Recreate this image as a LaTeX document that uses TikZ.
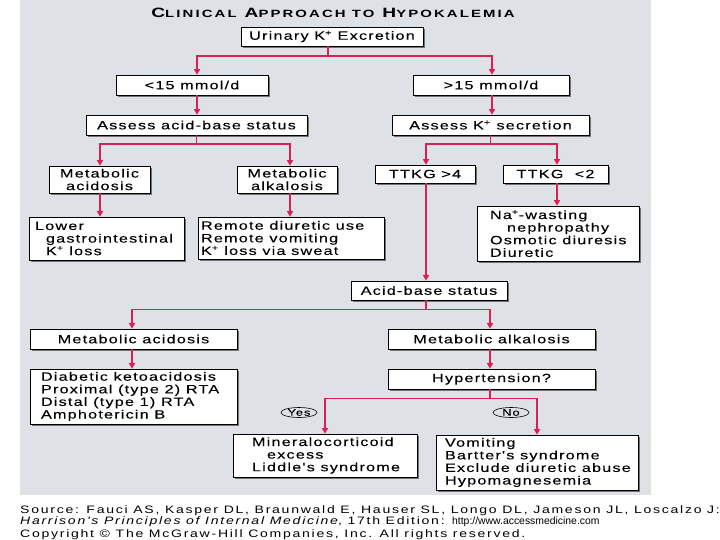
\documentclass[tikz,border=0pt]{standalone}
\usepackage{fontspec}
\setmainfont{Liberation Sans}
\newfontfamily\bxf[FakeStretch=1.35,LetterSpace=10,FakeBold=0.1]{Liberation Sans}
\newfontfamily\ttlf[FakeStretch=1.42,LetterSpace=20]{Liberation Sans}
\newfontfamily\ftf[FakeStretch=1.3,LetterSpace=16]{Liberation Sans}
\newcommand{\bxfont}{\bxf\fontsize{12}{12.6}\selectfont}
\newcommand{\ftfont}{\ftf\fontsize{10.8}{10.8}\selectfont}
\newcommand{\smc}[1]{{\fontsize{10.5}{10.5}\selectfont #1}}
\usetikzlibrary{arrows.meta,shadows,shapes.geometric}
\definecolor{panel}{RGB}{222,226,231}
\definecolor{hotred}{RGB}{219,31,82}
\begin{document}
\begin{tikzpicture}[x=1pt,y=-1pt,
  bx/.style={draw=black, line width=0.7pt, fill=white, inner sep=0pt, font=\bxfont,
    drop shadow={shadow xshift=1.6pt, shadow yshift=-1.6pt, fill=black!55, opacity=1}},
  ml/.style={bx, align=flush left, execute at begin node={\leftskip=#1\relax}},
  ln/.style={draw=hotred, line width=1.7pt},
  arr/.style={ln, -{Triangle[width=6pt,length=5.5pt]}},
  oval/.style={ellipse, draw=black, line width=0.6pt, minimum width=36pt, minimum height=10pt,
    inner sep=0pt, font=\bxf\fontsize{9.5}{9.5}\selectfont},
  foot/.style={anchor=base west, inner sep=0pt, font=\ftfont}]
\useasboundingbox (0,0) rectangle (720,540);
\fill[panel] (20,0) rectangle (651,495);

% title
\node[inner sep=0pt, font=\ttlf\bfseries\fontsize{13.5}{13.5}\selectfont] (title) at (333,12.5)
  {C\smc{LINICAL} A\smc{PPROACH TO} H\smc{YPOKALEMIA}};

% boxes
\node[bx, minimum width=182pt, minimum height=19pt] (urine) at (332,36.5) {Urinary K\textsuperscript{+} Excretion};
\node[bx, minimum width=152pt, minimum height=20pt] (lt15) at (192,85) {<15 mmol/d};
\node[bx, minimum width=156pt, minimum height=20pt] (gt15) at (491,85) {>15 mmol/d};
\node[bx, minimum width=221pt, minimum height=20pt] (aab) at (196.5,125) {Assess acid-base status};
\node[bx, minimum width=197pt, minimum height=20pt] (aks) at (490.5,125) {Assess K\textsuperscript{+} secretion};
\node[bx, minimum width=101pt, minimum height=27pt, align=center] (ma1) at (99.5,179.5) {Metabolic\\acidosis};
\node[bx, minimum width=100pt, minimum height=27pt, align=center] (mk1) at (287,179.5) {Metabolic\\alkalosis};
\node[ml=4pt, minimum width=155pt, minimum height=43pt, text width=151pt] (lgi) at (106.5,238.5)
  {Lower\\\hspace*{11pt}gastrointestinal\\\hspace*{11pt}K\textsuperscript{+}~loss};
\node[ml=1pt, minimum width=186pt, minimum height=42pt, text width=182pt] (rem) at (291,238)
  {Remote~diuretic~use\\Remote~vomiting\\K\textsuperscript{+}~loss~via~sweat};
\node[bx, minimum width=100pt, minimum height=18pt] (tk4) at (425,174) {TTKG >4};
\node[bx, minimum width=105pt, minimum height=18pt] (tk2) at (555.5,174) {TTKG~ <2};
\node[ml=11pt, minimum width=162pt, minimum height=55pt, text width=158pt] (na) at (558,233.5)
  {Na\textsuperscript{+}-wasting\\\hspace*{17pt}nephropathy\\Osmotic~diuresis\\Diuretic};
\node[bx, minimum width=156pt, minimum height=19pt] (abs) at (429,290.5) {Acid-base status};
\node[bx, minimum width=207pt, minimum height=20pt] (ma2) at (133.5,339) {Metabolic acidosis};
\node[bx, minimum width=207pt, minimum height=20pt] (mk2) at (491.5,339) {Metabolic alkalosis};
\node[ml=9pt, minimum width=207pt, minimum height=55pt, text width=203pt] (dka) at (133.5,396.5)
  {Diabetic~ketoacidosis\\Proximal~(type~2)~RTA\\Distal~(type~1)~RTA\\Amphotericin~B};
\node[bx, minimum width=207pt, minimum height=20pt] (hyp) at (491.5,379) {Hypertension?};
\node[ml=17pt, minimum width=184pt, minimum height=43pt, text width=180pt] (min) at (325,455.5)
  {Mineralocorticoid\\\hspace*{15pt}excess\\Liddle's~syndrome};
\node[ml=7pt, minimum width=202pt, minimum height=55pt, text width=198pt] (vom) at (537,462.5)
  {Vomiting\\Bartter's~syndrome\\Exclude~diuretic~abuse\\Hypomagnesemia};

% yes / no
\node[oval] (yes) at (299,412.5) {Yes};
\node[oval] (no) at (511,412.5) {No};

% connectors
\draw[ln] ([xshift=-4pt]urine.south) -- ++(0,10) coordinate (u1);
\draw[arr] (u1) -| ([xshift=5pt]lt15.north);
\draw[arr] (u1) -| ([xshift=1pt]gt15.north);
\draw[arr] ([xshift=5pt]lt15.south) -- ([xshift=5pt]lt15.south |- aab.north);
\draw[arr] ([xshift=1pt]gt15.south) -- ([xshift=1pt]gt15.south |- aks.north);

\draw[ln] (aab.south) -- ++(0,9) coordinate (a1);
\draw[arr] (a1) -| ([xshift=0.5pt]ma1.north);
\draw[arr] (a1) -| ([xshift=3pt]mk1.north);
\draw[arr] ([xshift=0.5pt]ma1.south) -- ([xshift=0.5pt]ma1.south |- lgi.north);
\draw[arr] ([xshift=3pt]mk1.south) -- ([xshift=3pt]mk1.south |- rem.north);

\draw[ln] (aks.south) -- ++(0,9) coordinate (k1);
\draw[arr] (k1) -| ([xshift=1pt]tk4.north);
\draw[arr] (k1) -| ([xshift=1.5pt]tk2.north);
\draw[arr] ([xshift=1.5pt]tk2.south) -- ([xshift=1.5pt]tk2.south |- na.north);
\draw[arr] ([xshift=1pt]tk4.south) -- ([xshift=1pt]tk4.south |- abs.north);

\draw[ln] ([xshift=1pt]tk4.south |- abs.south) -- ++(0,9) coordinate (b1);
\draw[arr] (b1) -| ([xshift=-1.5pt]ma2.north);
\draw[arr] (b1) -| ([xshift=-1.5pt]mk2.north);
\draw[arr] ([xshift=-1.5pt]ma2.south) -- ([xshift=-1.5pt]ma2.south |- dka.north);
\draw[arr] ([xshift=-1.5pt]mk2.south) -- ([xshift=-1.5pt]mk2.south |- hyp.north);

\draw[ln] ([xshift=-1.5pt]hyp.south) -- ++(0,9) coordinate (h1);
\draw[arr] (h1) -| (min.north);
\draw[arr] (h1) -| (vom.north);

% footer
\node[foot] (src) at (20,513) {Source: Fauci AS, Kasper DL, Braunwald E, Hauser SL, Longo DL, Jameson JL, Loscalzo J:};
\node[foot] (hpim) at (20,524) {\textit{Harrison's Principles of Internal Medicine}, 17th Edition: {\normalfont\fontsize{10.4}{10.4}\selectfont http://www.accessmedicine.com}};
\node[foot] (copy) at (20,537) {Copyright \textcopyright{} The McGraw-Hill Companies, Inc. All rights reserved.};
\end{tikzpicture}
\end{document}
